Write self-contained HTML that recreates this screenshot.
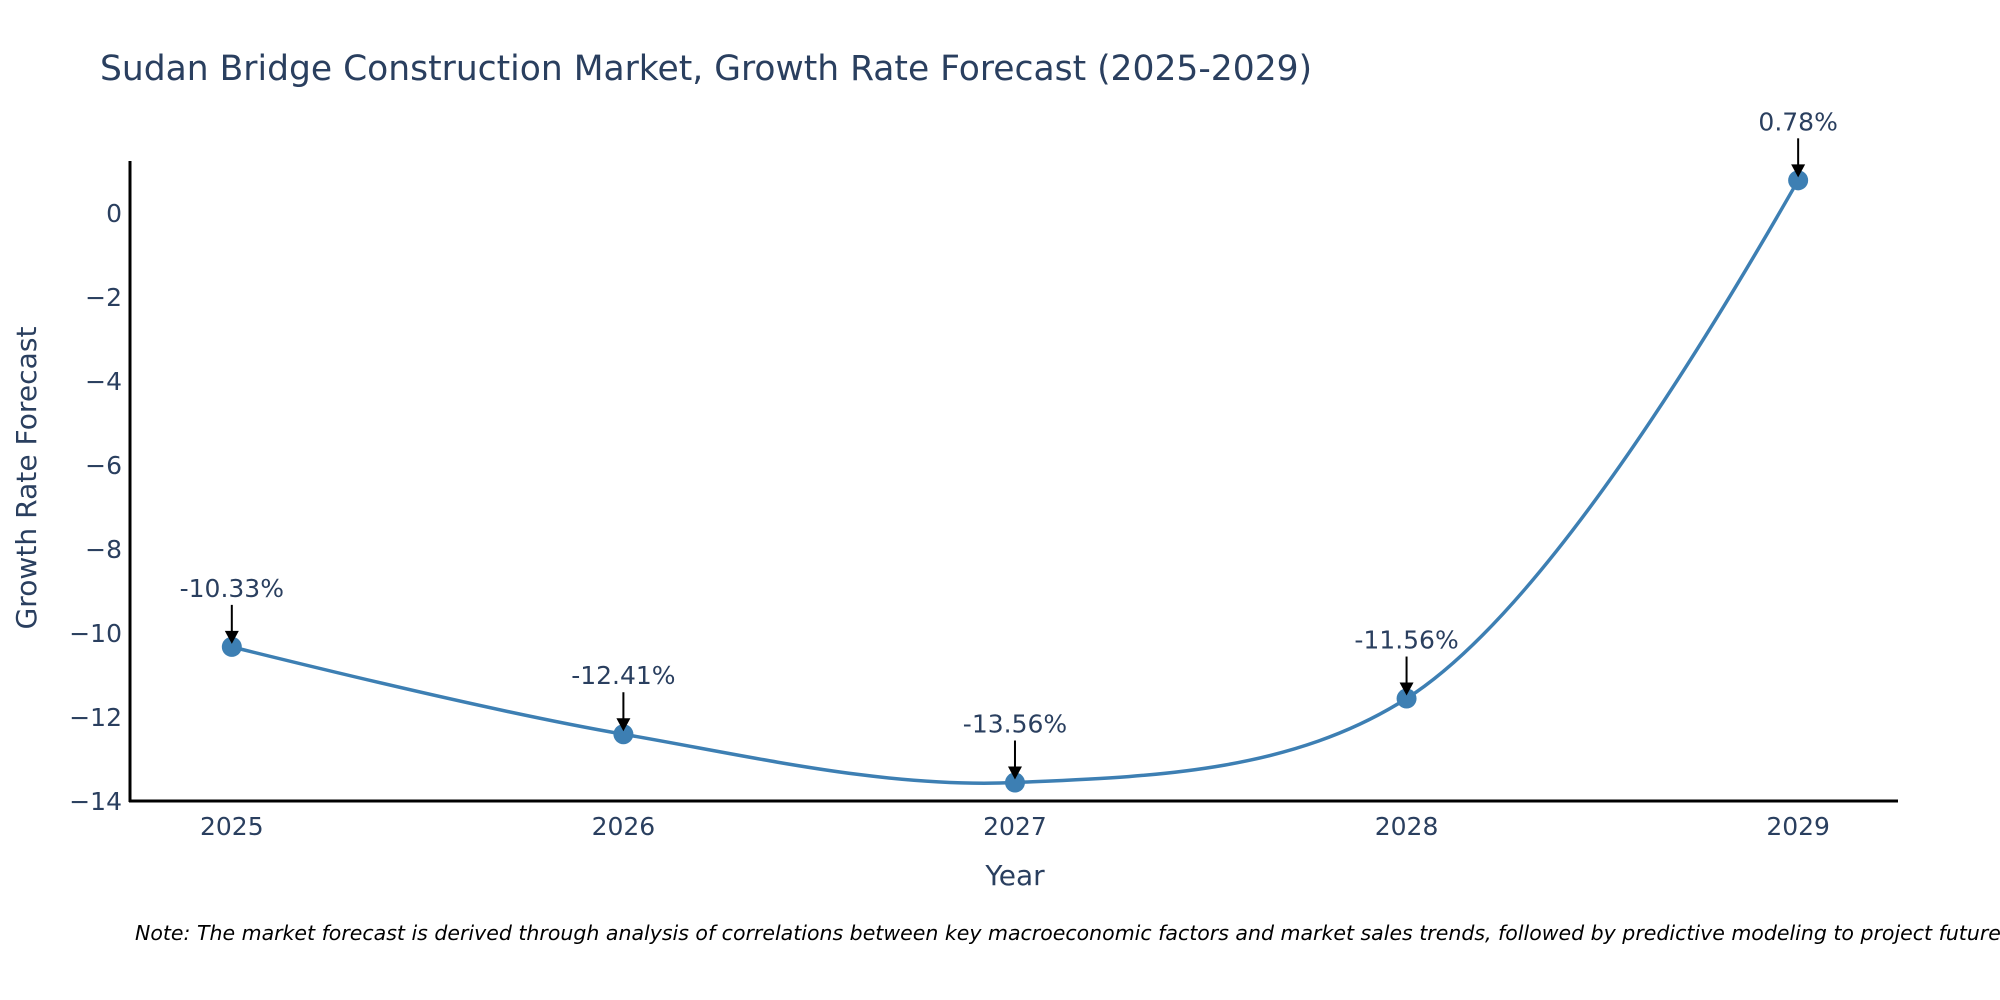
<!DOCTYPE html>
<html><head><meta charset="utf-8"><style>
body{margin:0;background:#fff;}
svg{display:block;font-family:"DejaVu Sans","Liberation Sans",sans-serif;}
</style></head><body>
<svg id="chart" width="2000" height="1000" viewBox="0 0 2000 1000">
<text x="100" y="80" font-size="34.5" fill="#2a3f5f">Sudan Bridge Construction Market, Growth Rate Forecast (2025-2029)</text>
<g id="yticks"></g>
<g id="xticks"></g>
<line x1="130" y1="161" x2="130" y2="802" stroke="#000" stroke-width="3"/>
<line x1="129" y1="801" x2="1898" y2="801" stroke="#000" stroke-width="3"/>
<path id="line" fill="none" stroke="#3d7fb3" stroke-width="3.5"/>
<g id="points"></g>
<g id="annots"></g>
<text x="1015" y="885" font-size="28" fill="#2a3f5f" text-anchor="middle">Year</text>
<text transform="translate(36,478) rotate(-90)" font-size="28" fill="#2a3f5f" text-anchor="middle" textLength="303" lengthAdjust="spacingAndGlyphs">Growth Rate Forecast</text>
<text x="135" y="940" font-size="20.5" font-style="italic" fill="#000">Note: The market forecast is derived through analysis of correlations between key macroeconomic factors and market sales trends, followed by predictive modeling to project future sales.</text>
</svg>
<script>
const years = [2025, 2026, 2027, 2028, 2029];
const values = [-10.33, -12.41, -13.56, -11.56, 0.78];
const labels = ["-10.33%", "-12.41%", "-13.56%", "-11.56%", "0.78%"];
const yTickValues = [0, -2, -4, -6, -8, -10, -12, -14];

const NS = "http://www.w3.org/2000/svg";
const xMin = 2024.74, xMax = 2029.255, yMin = -14, yMax = 1.24;
const px0 = 130, px1 = 1898, py0 = 801, py1 = 161;
function xs(v){ return px0 + (v - xMin) / (xMax - xMin) * (px1 - px0); }
function ys(v){ return py0 - (v - yMin) / (yMax - yMin) * (py0 - py1); }
function mk(tag, attrs, parent){ const e = document.createElementNS(NS, tag); for (const k in attrs) e.setAttribute(k, attrs[k]); parent.appendChild(e); return e; }

const yt = document.getElementById('yticks');
yTickValues.forEach(v => {
  const t = mk('text', {x: 122, y: ys(v) + 9, 'font-size': 25, fill: '#2a3f5f', 'text-anchor': 'end'}, yt);
  t.textContent = v < 0 ? '\u2212' + Math.abs(v) : String(v);
  
  
});
const xt = document.getElementById('xticks');
years.forEach(y => {
  const t = mk('text', {x: xs(y), y: 835, 'font-size': 25, fill: '#2a3f5f', 'text-anchor': 'middle'}, xt);
  t.textContent = String(y);
  
  
});

const pts = years.map((y, i) => [xs(y), ys(values[i])]);
function tangent(p0, p1, p2, sm){
  const d1x = p0[0]-p1[0], d1y = p0[1]-p1[1], d2x = p2[0]-p1[0], d2y = p2[1]-p1[1];
  const d1a = Math.pow(d1x*d1x + d1y*d1y, 0.25), d2a = Math.pow(d2x*d2x + d2y*d2y, 0.25);
  const numx = (d2a*d2a*d1x - d1a*d1a*d2x)*sm, numy = (d2a*d2a*d1y - d1a*d1a*d2y)*sm;
  const den1 = 3*d2a*(d1a+d2a), den2 = 3*d1a*(d1a+d2a);
  return [[p1[0] + numx/den1, p1[1] + numy/den1], [p1[0] - numx/den2, p1[1] - numy/den2]];
}
const tg = [];
for (let i = 1; i < pts.length - 1; i++) tg.push(tangent(pts[i-1], pts[i], pts[i+1], 1));
let d = 'M' + pts[0] + ' Q' + tg[0][0] + ' ' + pts[1];
for (let i = 2; i < pts.length - 1; i++) d += ' C' + tg[i-2][1] + ' ' + tg[i-1][0] + ' ' + pts[i];
d += ' Q' + tg[pts.length-3][1] + ' ' + pts[pts.length-1];
document.getElementById('line').setAttribute('d', d);

const pg = document.getElementById('points');
const ag = document.getElementById('annots');
pts.forEach((p, i) => {
  const c = mk('circle', {cx: p[0], cy: p[1], r: 10, fill: '#3d7fb3'}, pg);
  
  
  const l = mk('line', {x1: p[0], y1: p[1] - 42, x2: p[0], y2: p[1] - 14, stroke: '#000', 'stroke-width': 2}, ag);
  
  
  const h = mk('path', {d: 'M' + (p[0] - 7) + ',' + (p[1] - 16) + ' L' + (p[0] + 7) + ',' + (p[1] - 16) + ' L' + p[0] + ',' + (p[1] - 3) + 'Z', fill: '#000'}, ag);
  
  
  const t = mk('text', {x: p[0], y: p[1] - 50, 'font-size': 25, fill: '#2a3f5f', 'text-anchor': 'middle'}, ag);
  t.textContent = labels[i];
  
  
});
</script>
</body></html>
